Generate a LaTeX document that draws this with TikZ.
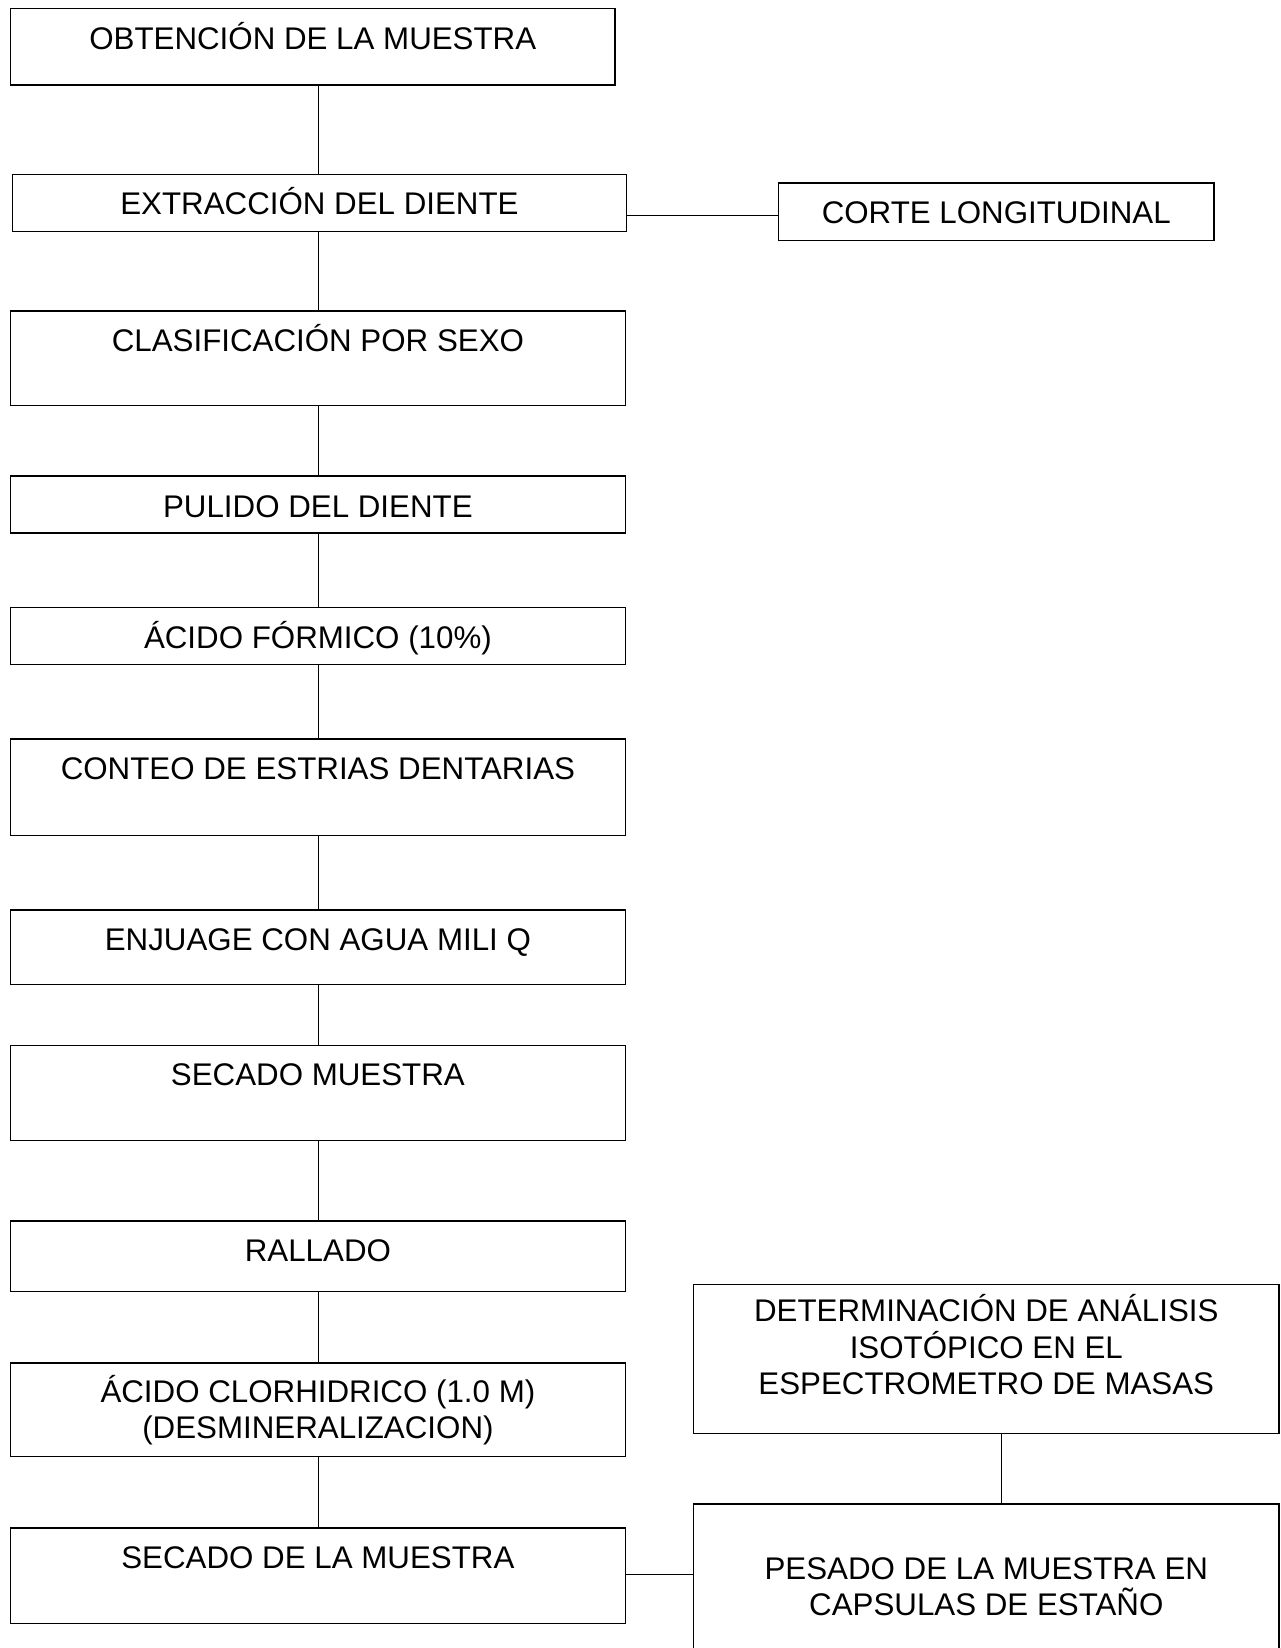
\documentclass[tikz,border=0pt]{standalone}
\usepackage{fontspec}
\setmainfont{Liberation Sans}
\begin{document}
\begin{tikzpicture}[x=1pt,y=-1pt,
  box/.style={draw=black, line width=1.4pt, rectangle, inner sep=0pt, fill=none},
  lbl/.style={inner sep=0pt, anchor=base, align=center, font=\fontsize{31.3}{36.5}\selectfont},
  conn/.style={draw=black, line width=1.4pt}]
\path[use as bounding box, clip] (0,0) rectangle (1280,1648);
\fill[white] (0,0) rectangle (1280,1648);
% boxes
\node[box, minimum width=604.5, minimum height=76.7] (b1) at (312.75,46.75) {};
\node[box, minimum width=613.7, minimum height=56.8] (b2) at (319.45,202.8) {};
\node[box, minimum width=435.1, minimum height=57.8] (corte) at (996.25,211.8) {};
\node[box, minimum width=614.8, minimum height=94.6] (b3) at (317.9,358.3) {};
\node[box, minimum width=614.8, minimum height=56.8] (b4) at (317.9,504.4) {};
\node[box, minimum width=614.8, minimum height=56.8] (b5) at (317.9,635.8) {};
\node[box, minimum width=614.8, minimum height=96.7] (b6) at (317.9,787.15) {};
\node[box, minimum width=614.8, minimum height=74.6] (b7) at (317.9,947.4) {};
\node[box, minimum width=614.8, minimum height=94.6] (b8) at (317.9,1092.9) {};
\node[box, minimum width=614.8, minimum height=70.5] (b9) at (317.9,1256.35) {};
\node[box, minimum width=614.8, minimum height=93.5] (b10) at (317.9,1409.75) {};
\node[box, minimum width=614.8, minimum height=95.6] (b11) at (317.9,1575.8) {};
\node[box, minimum width=585.4, minimum height=149.2] (det) at (986.3,1358.8) {};
\node[box, minimum width=585.4, minimum height=196.2] (pes) at (986.3,1601.9) {};
% labels (base anchor = baseline of the last line)
\node[lbl] (t1) at (312.75,49.5) {OBTENCIÓN DE LA MUESTRA};
\node[lbl] (t2) at (319.45,214.5) {EXTRACCIÓN DEL DIENTE};
\node[lbl] (tc) at (996.25,223.3) {CORTE LONGITUDINAL};
\node[lbl] (t3) at (317.9,351) {CLASIFICACIÓN POR SEXO};
\node[lbl] (t4) at (317.9,517) {PULIDO DEL DIENTE};
\node[lbl] (t5) at (317.9,648.3) {ÁCIDO FÓRMICO (10\%)};
\node[lbl] (t6) at (317.9,779.7) {CONTEO DE ESTRIAS DENTARIAS};
\node[lbl] (t7) at (317.9,950) {ENJUAGE CON AGUA MILI Q};
\node[lbl] (t8) at (317.9,1085.5) {SECADO MUESTRA};
\node[lbl] (t9) at (317.9,1261) {RALLADO};
\node[lbl] (t10) at (317.9,1438.7) {ÁCIDO CLORHIDRICO (1.0 M)\\(DESMINERALIZACION)};
\node[lbl] (t11) at (317.9,1568) {SECADO DE LA MUESTRA};
\node[lbl] (tdet) at (986.3,1394.5) {DETERMINACIÓN DE ANÁLISIS\\ISOTÓPICO EN EL\\ESPECTROMETRO DE MASAS};
\node[lbl] (tpes) at (986.3,1615.5) {PESADO DE LA MUESTRA EN\\CAPSULAS DE ESTAÑO};
% connector guides
\coordinate (spine) at (318.4,0);
\coordinate (hc) at (0,215.4);
\coordinate (hp) at (0,1574.2);
\coordinate (vd) at (1001.5,0);
% connectors
\draw[conn] (b1.south -| spine) -- (b2.north -| spine);
\draw[conn] (b2.south -| spine) -- (b3.north -| spine);
\draw[conn] (b3.south -| spine) -- (b4.north -| spine);
\draw[conn] (b4.south -| spine) -- (b5.north -| spine);
\draw[conn] (b5.south -| spine) -- (b6.north -| spine);
\draw[conn] (b6.south -| spine) -- (b7.north -| spine);
\draw[conn] (b7.south -| spine) -- (b8.north -| spine);
\draw[conn] (b8.south -| spine) -- (b9.north -| spine);
\draw[conn] (b9.south -| spine) -- (b10.north -| spine);
\draw[conn] (b10.south -| spine) -- (b11.north -| spine);
\draw[conn] (b2.east |- hc) -- (corte.west |- hc);
\draw[conn] (b11.east |- hp) -- (pes.west |- hp);
\draw[conn] (det.south -| vd) -- (pes.north -| vd);
\end{tikzpicture}
\end{document}
